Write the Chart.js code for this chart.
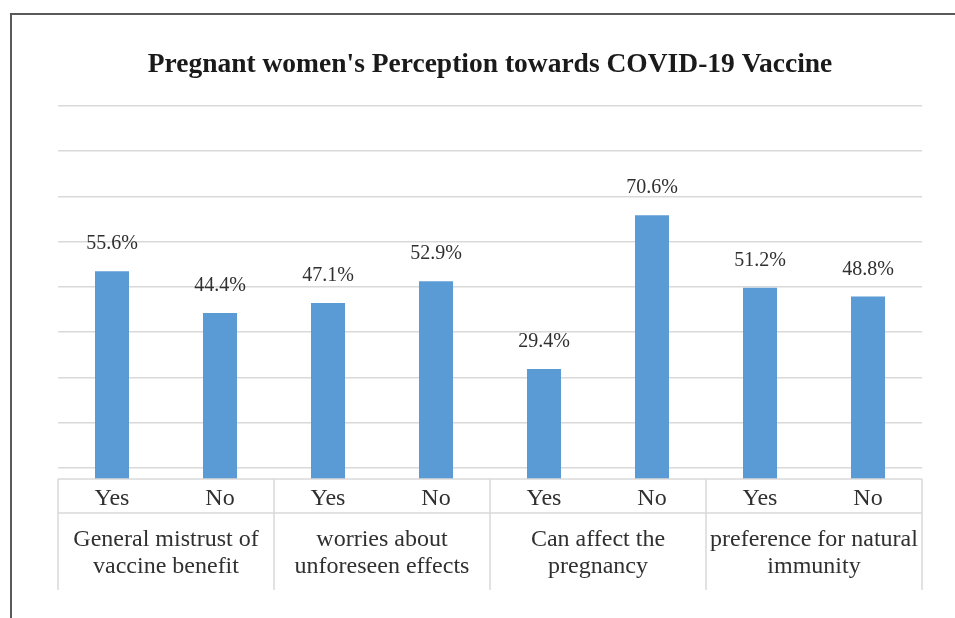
<!DOCTYPE html>
<html>
<head>
<meta charset="utf-8">
<script src="https://cdn.jsdelivr.net/npm/chart.js@4/dist/chart.umd.min.js"></script>
<style>
  body { margin: 0; background: #fff; }
  #wrap { position: relative; width: 955px; height: 618px; overflow: hidden; }
  #frame { position: absolute; left: 10px; top: 13px; width: 2000px; height: 2000px;
           border-left: 2px solid #595959; border-top: 2px solid #595959; pointer-events: none; }
</style>
</head>
<body>
<div id="wrap">
  <canvas id="myChart" width="955" height="618"></canvas>
  <div id="frame"></div>
</div>
<script>
// data
var groups = [
    ['General mistrust of', 'vaccine benefit'],
    ['worries about', 'unforeseen effects'],
    ['Can affect the', 'pregnancy'],
    ['preference for natural', 'immunity']
];
var answers = ['Yes', 'No', 'Yes', 'No', 'Yes', 'No', 'Yes', 'No'];
var values = [55.6, 44.4, 47.1, 52.9, 29.4, 70.6, 51.2, 48.8];
// horizontal gridlines (unlabelled in the original)
var gridTicks = [3.0, 15.1, 27.2, 39.3, 51.4, 63.5, 75.6, 87.7, 99.8];

var serif = '"Liberation Serif", "Times New Roman", serif';

// percent labels above each bar
var valueLabels = {
    id: 'valueLabels',
    afterDatasetsDraw: function(chart) {
        var ctx = chart.ctx;
        var meta = chart.getDatasetMeta(0);
        ctx.save();
        ctx.font = '20px ' + serif;
        ctx.fillStyle = '#303030';
        ctx.textAlign = 'center';
        ctx.textBaseline = 'alphabetic';
        meta.data.forEach(function(bar, i) {
            ctx.fillText(values[i].toFixed(1) + '%', bar.x, bar.y - 22);
        });
        ctx.restore();
    }
};

// table-style lines under the plot
var tableLines = {
    id: 'tableLines',
    afterDraw: function(chart) {
        var ctx = chart.ctx;
        var x = chart.scales.x, g = chart.scales.x2;
        ctx.save();
        ctx.strokeStyle = '#d9d9d9';
        ctx.lineWidth = 1.5;
        ctx.beginPath();
        ctx.moveTo(x.left, x.top); ctx.lineTo(x.right, x.top);
        ctx.moveTo(x.left, g.top); ctx.lineTo(x.right, g.top);
        for (var i = 0; i <= groups.length; i++) {
            var px = g.left + i * g.width / groups.length;
            ctx.moveTo(px, x.top); ctx.lineTo(px, g.bottom);
        }
        ctx.stroke();
        ctx.restore();
    }
};

document.addEventListener("DOMContentLoaded", function(){
    var ctx = document.getElementById('myChart').getContext('2d');
    var chart = new Chart(ctx, {
        type: 'bar',
        data: {
            labels: answers,
            datasets: [{
                label: 'Perception',
                backgroundColor: '#5b9bd5',
                borderWidth: 0,
                data: values,
                barPercentage: 0.315,
                categoryPercentage: 1
            }]
        },
        options: {
            responsive: false,
            animation: false,
            layout: { padding: { top: 0, left: 58, right: 33, bottom: 28 } },
            plugins: {
                legend: { display: false },
                tooltip: { enabled: false },
                title: {
                    display: true,
                    text: "Pregnant women's Perception towards COVID-19 Vaccine",
                    color: '#1a1a1a',
                    font: { family: serif, size: 27.5, weight: 'bold', lineHeight: 1.2 },
                    padding: { top: 48, bottom: 25 }
                }
            },
            scales: {
                x: {
                    position: 'bottom',
                    grid: { display: false, drawTicks: false },
                    border: { display: false },
                    ticks: {
                        color: '#303030',
                        font: { family: serif, size: 24, lineHeight: 1.14 },
                        padding: 6,
                        maxRotation: 0,
                        autoSkip: false
                    },
                    afterFit: function(scale) { scale.height = 34; }
                },
                x2: {
                    type: 'category',
                    labels: groups,
                    position: 'bottom',
                    weight: 1,
                    offset: true,
                    grid: { display: false, drawTicks: false },
                    border: { display: false },
                    ticks: {
                        color: '#303030',
                        font: { family: serif, size: 24, lineHeight: 1.14 },
                        padding: 13,
                        maxRotation: 0,
                        autoSkip: false
                    },
                    afterFit: function(scale) { scale.height = 77; }
                },
                y: {
                    min: 0,
                    max: 99.8,
                    grid: { color: '#d9d9d9', lineWidth: 1.5, drawTicks: false },
                    border: { display: false },
                    ticks: { display: false },
                    afterBuildTicks: function(scale) {
                        scale.ticks = gridTicks.map(function(v) { return { value: v }; });
                    },
                    afterFit: function(scale) { scale.width = 0; }
                }
            }
        },
        plugins: [valueLabels, tableLines]
    });
});
</script>
</body>
</html>
